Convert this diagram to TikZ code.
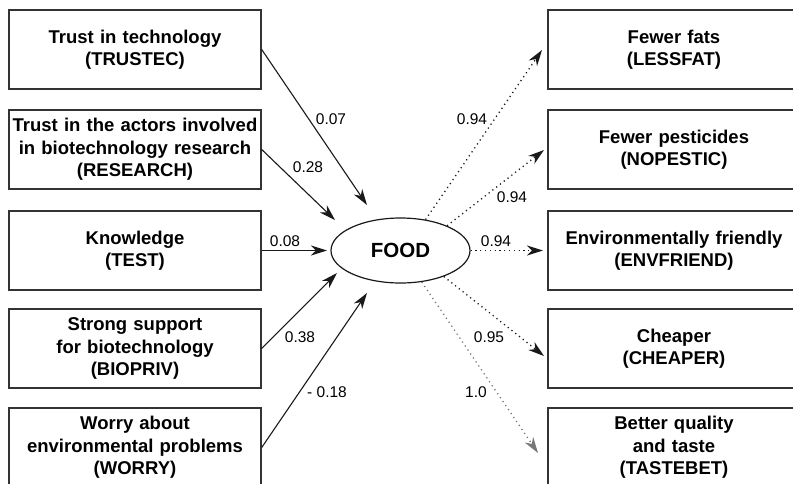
\documentclass[tikz,border=0pt]{standalone}
\usepackage{fontspec}
\setmainfont{Liberation Sans}
\usetikzlibrary{arrows.meta,shapes.geometric}
\definecolor{boxgray}{HTML}{333333}
\definecolor{arrowgray}{HTML}{777777}
\begin{document}
\begin{tikzpicture}[x=1pt,y=-1pt,
  box/.style={draw=boxgray, line width=1.4pt, text width=248pt, inner xsep=2pt, inner ysep=0pt,
    minimum height=79pt, align=center, font=\fontsize{18.5}{22.5}\selectfont\bfseries},
  solidarrow/.style={line width=1.1pt, draw=black!90, -{Stealth[length=16pt,width=10pt,inset=5pt]}},
  dotarrow/.style={line width=1.3pt, draw=black!90, dash pattern=on 1.2pt off 3.6pt,
    -{Stealth[length=16pt,width=10pt,inset=5pt]}},
  lbl/.style={inner sep=0pt, font=\fontsize{15.5}{18}\selectfont}]
\useasboundingbox (0,0) rectangle (793,483);
\clip (0,0) rectangle (793,483);
% left boxes
\node[box] (l1) at (135,49.5) {Trust in technology\\(TRUSTEC)};
\node[box] (l2) at (135,149.5) {Trust in the actors involved\\in biotechnology research\\(RESEARCH)};
\node[box] (l3) at (135,250.5) {Knowledge\\(TEST)};
\node[box] (l4) at (135,348.5) {Strong support\\for biotechnology\\(BIOPRIV)};
\node[box] (l5) at (135,447.5) {Worry about\\environmental problems\\(WORRY)};
% right boxes
\node[box] (r1) at (674,49.5) {Fewer fats\\(LESSFAT)};
\node[box] (r2) at (674,149.5) {Fewer pesticides\\(NOPESTIC)};
\node[box] (r3) at (674,250.5) {Environmentally friendly\\(ENVFRIEND)};
\node[box] (r4) at (674,348.5) {Cheaper\\(CHEAPER)};
\node[box] (r5) at (674,447.5) {Better quality\\and taste\\(TASTEBET)};
% central ellipse
\node[ellipse, draw=black!90, line width=1.2pt, minimum width=139pt, minimum height=65pt, inner sep=0pt,
  font=\fontsize{20.5}{24}\selectfont\bfseries] (food) at (400.5,250.5) {FOOD};
% arrow tips
\coordinate (t1) at (367,205);
\coordinate (t2) at (335,220);
\coordinate (t3) at (327,250.5);
\coordinate (t4) at (337,273);
\coordinate (t5) at (367,293);
\coordinate (s1) at (542,50);
\coordinate (s2) at (544,150);
\coordinate (s3) at (543,250.5);
\coordinate (s4) at (544,356);
\coordinate (s5) at (538,453);
% left arrows
\draw[solidarrow] (l1.east) -- (t1);
\draw[solidarrow] (l2.east) -- (t2);
\draw[solidarrow] (l3.east) -- (t3);
\draw[solidarrow] (l4.east) -- (t4);
\draw[solidarrow] (l5.east) -- (t5);
% right arrows
\draw[dotarrow] (food.51) -- (s1);
\draw[dotarrow] (food.28) -- (s2);
\draw[dotarrow] (food.east) -- (s3);
\draw[dotarrow] (food.-31) -- (s4);
\draw[dotarrow, draw=arrowgray, -{Stealth[length=16pt,width=10pt,inset=5pt,color=arrowgray]}] (food.-56) -- (s5);
% labels
\node[lbl] (a1) at (331,119) {0.07};
\node[lbl] (a2) at (308,167) {0.28};
\node[lbl] (a3) at (285,241) {0.08};
\node[lbl] (a4) at (300,337) {0.38};
\node[lbl] (a5) at (327,392) {- 0.18};
\node[lbl] (b1) at (472,119) {0.94};
\node[lbl] (b2) at (512,197) {0.94};
\node[lbl] (b3) at (496,241) {0.94};
\node[lbl] (b4) at (489,337) {0.95};
\node[lbl] (b5) at (476,392) {1.0};
\end{tikzpicture}
\end{document}
